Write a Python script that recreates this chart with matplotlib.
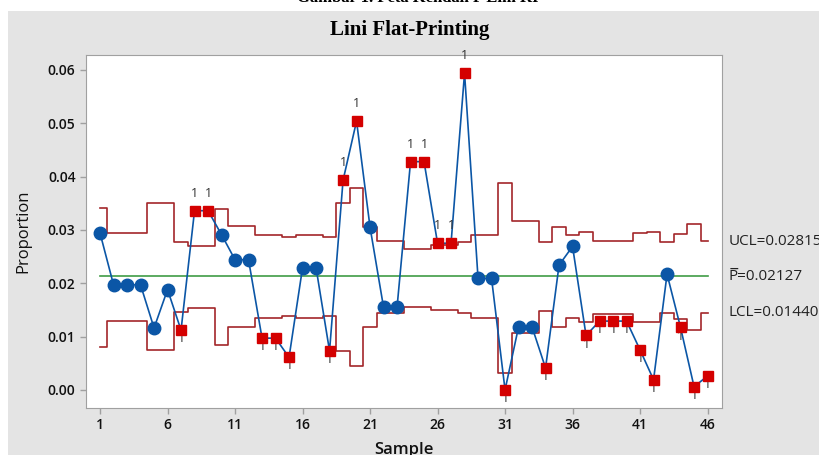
import matplotlib.pyplot as plt
import matplotlib.patches as mpatches
import numpy as np

# --- data ---
SAMPLES = np.arange(1, 47)
PROPORTION = [0.0294, 0.0197, 0.0197, 0.0197, 0.0116, 0.0188, 0.0112, 0.0336, 0.0336, 0.0291,
              0.0244, 0.0244, 0.0097, 0.0097, 0.0061, 0.0229, 0.0229, 0.0073, 0.0393, 0.0504,
              0.0305, 0.0155, 0.0155, 0.0428, 0.0428, 0.0275, 0.0275, 0.0594, 0.0209, 0.0209,
              0.0000, 0.0118, 0.0118, 0.0041, 0.0234, 0.0269, 0.0102, 0.0129, 0.0129, 0.0129,
              0.0075, 0.0019, 0.0217, 0.0117, 0.0006, 0.0026]
UCL = [0.0342, 0.0295, 0.0295, 0.0295, 0.0351, 0.0351, 0.0278, 0.0270, 0.0270, 0.0339,
       0.0308, 0.0308, 0.0290, 0.0290, 0.02875, 0.0290, 0.0290, 0.02875, 0.0351, 0.0379,
       0.0306, 0.0279, 0.0279, 0.0264, 0.0264, 0.0272, 0.0272, 0.0278, 0.0291, 0.0291,
       0.0388, 0.0317, 0.0317, 0.0278, 0.0306, 0.0290, 0.0297, 0.0279, 0.0279, 0.0279,
       0.0295, 0.0297, 0.0278, 0.0292, 0.0312, 0.0279]
LCL = [0.0080, 0.0130, 0.0130, 0.0130, 0.0074, 0.0074, 0.0146, 0.0154, 0.0154, 0.0084,
       0.0117, 0.0117, 0.0135, 0.0135, 0.0138, 0.0135, 0.0135, 0.0138, 0.0073, 0.0045,
       0.0117, 0.0145, 0.0145, 0.0156, 0.0156, 0.0150, 0.0150, 0.0145, 0.0134, 0.0134,
       0.0032, 0.0107, 0.0107, 0.0147, 0.0118, 0.0134, 0.0128, 0.01425, 0.01425, 0.01425,
       0.0128, 0.0128, 0.0145, 0.0133, 0.01125, 0.0145]
P_BAR = 0.02127
UCL_LABEL = "UCL=0.02815"
P_LABEL = "P\u0305=0.02127"
LCL_LABEL = "LCL=0.01440"

BLUE = "#0b56a6"
RED = "#d40000"
LIMIT = "#a3262a"
GREEN = "#3f9c45"

plt.rcParams['font.family'] = ['Open Sans', 'DejaVu Sans']

fig = plt.figure(figsize=(8.2, 4.55), dpi=100, facecolor="white")
# grey panel behind the chart
fig.patches.append(mpatches.Rectangle((8 / 820, 0), 1, 1 - 11 / 455, transform=fig.transFigure,
                                      facecolor="#e4e4e4", edgecolor="none", zorder=-5))
fig.text(0.51, 1 - 2 / 455, "Gambar 1. Peta Kendali P Lini RI", ha="center", va="baseline",
         fontsize=12, family="Liberation Serif", fontweight="bold")

ax = fig.add_axes([86 / 820, 1 - 408 / 455, (722 - 86) / 820, (408 - 55) / 455])
ax.set_facecolor("white")

ax.step(SAMPLES, UCL, where="mid", color=LIMIT, lw=1.2, zorder=2)
ax.step(SAMPLES, LCL, where="mid", color=LIMIT, lw=1.2, zorder=2)
ax.plot([SAMPLES[0], SAMPLES[-1]], [P_BAR, P_BAR], color=GREEN, lw=1.2, zorder=2)

ax.plot(SAMPLES, PROPORTION, color=BLUE, lw=1.2, zorder=3)
prop = np.array(PROPORTION)
ucl = np.array(UCL)
lcl = np.array(LCL)
high = prop > ucl
low = prop < lcl
ok = ~(high | low)
ax.plot(SAMPLES[ok], prop[ok], "o", color=BLUE, ms=9, zorder=4)
ax.plot(SAMPLES[~ok], prop[~ok], "s", color=RED, ms=7, zorder=4)

for s, v in zip(SAMPLES[high], prop[high]):
    ax.annotate("1", (s, v), xytext=(0, 8), textcoords="offset points", ha="center",
                va="bottom", fontsize=9, color="#333333", zorder=3)
for s, v in zip(SAMPLES[low], prop[low]):
    ax.annotate("1", (s, v), xytext=(0, -1.5), textcoords="offset points", ha="center",
                va="top", fontsize=9, color="#333333", zorder=3.5)

# limit labels to the right of the plot
ax.text(1.01, UCL[-1], UCL_LABEL, transform=ax.get_yaxis_transform(), va="center",
        fontsize=11, color="#222222", clip_on=False)
ax.text(1.01, P_BAR, P_LABEL, transform=ax.get_yaxis_transform(), va="center",
        fontsize=11, color="#222222", clip_on=False)
ax.text(1.01, LCL[-1], LCL_LABEL, transform=ax.get_yaxis_transform(), va="center",
        fontsize=11, color="#222222", clip_on=False)

ax.set_xlim(-0.04, 47.07)
ax.set_ylim(-0.0034, 0.0628)
ax.set_xticks(np.arange(1, 47, 5))
ax.set_yticks(np.arange(0, 0.061, 0.01))
ax.yaxis.set_major_formatter(plt.FormatStrFormatter("%.2f"))
for sp in ax.spines.values():
    sp.set_color("#a0a0a0")
ax.tick_params(colors="#a0a0a0", length=4, width=1, labelcolor="#111111", labelsize=10)
for lab in ax.get_xticklabels() + ax.get_yticklabels():
    lab.set_fontweight("semibold")

ax.set_ylabel("Proportion", fontsize=12, fontweight="medium", color="#111111", labelpad=12)
ax.set_xlabel("Sample", fontsize=12, fontweight="semibold", color="#111111", labelpad=7)
fig.text(0.5, 1 - 30 / 455, "Lini Flat-Printing", ha="center", va="center",
         fontsize=15, family="Liberation Serif", fontweight="bold")

fig.savefig("out.png", dpi=100, facecolor=fig.get_facecolor())
